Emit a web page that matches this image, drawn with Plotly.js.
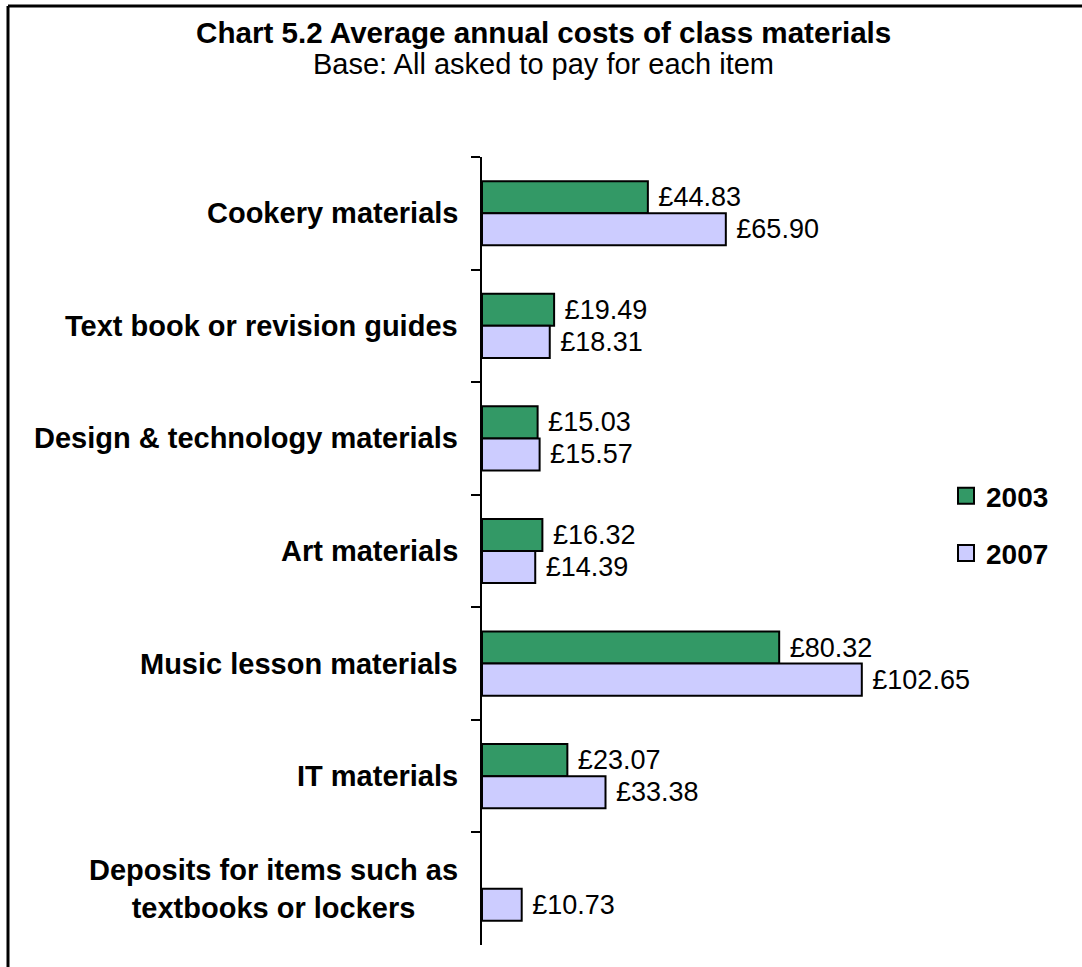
<!DOCTYPE html>
<html>
<head>
<meta charset="utf-8">
<script src="https://cdn.plot.ly/plotly-3.0.1.min.js"></script>
<style>
  html, body { margin: 0; padding: 0; background: #fff; }
  #chart { width: 1082px; height: 967px; }
</style>
</head>
<body>
<div id="chart"></div>
<script>
// ---- Data ----
const categories = [
  "Cookery materials",
  "Text book or revision guides",
  "Design & technology materials",
  "Art materials",
  "Music lesson materials",
  "IT materials",
  "Deposits for items such as textbooks or lockers"
];
const categoryLabels = [
  "Cookery materials",
  "Text book or revision guides",
  "Design & technology materials",
  "Art materials",
  "Music lesson materials",
  "IT materials",
  "Deposits for items such as<br>textbooks or lockers"
];
const values2003 = [44.83, 19.49, 15.03, 16.32, 80.32, 23.07, null];
const values2007 = [65.90, 18.31, 15.57, 14.39, 102.65, 33.38, 10.73];
const seriesNames = ["2003", "2007"];
const title = "Chart 5.2 Average annual costs of class materials";
const subtitle = "Base: All asked to pay for each item";

const FONT = "Arial, 'Liberation Sans', sans-serif";

function barTrace(name, vals, color) {
  return {
    type: "bar",
    orientation: "h",
    name: name,
    legendgroup: name,
    y: categories,
    x: vals,
    marker: { color: color, line: { color: "#000000", width: 2 } },
    texttemplate: " £%{x:.2f}",
    textposition: "outside",
    constraintext: "none",
    cliponaxis: false,
    textfont: { family: FONT, size: 27, color: "#000000" },
    hoverinfo: "x+y"
  };
}

const data = [
  barTrace(seriesNames[0], values2003, "#339966"),
  barTrace(seriesNames[1], values2007, "#CCCCFF")
];

const annotations = categories.map((c, i) => ({
  xref: "paper", yref: "y",
  x: 0, y: c,
  xanchor: "right", yanchor: "middle",
  xshift: -22,
  align: "center",
  showarrow: false,
  text: "<b>" + categoryLabels[i] + "</b>",
  font: { family: FONT, size: 29, color: "#000000" }
}));
annotations.push({
  xref: "paper", yref: "paper",
  x: (543 - 482) / 555, y: 1 + (157 - 64) / 788,
  xanchor: "center", yanchor: "middle",
  showarrow: false,
  text: subtitle,
  font: { family: FONT, size: 29, color: "#000000" }
});

const layout = {
  width: 1082,
  height: 967,
  margin: { l: 482, r: 45, t: 157, b: 22 },
  paper_bgcolor: "#ffffff",
  plot_bgcolor: "#ffffff",
  font: { family: FONT, color: "#000000" },
  title: {
    text: "<b>" + title + "</b>",
    font: { family: FONT, size: 29.6, color: "#000000" },
    x: 0.5025, xanchor: "center",
    y: 1 - 33 / 967, yanchor: "middle",
    xref: "container", yref: "container"
  },
  barmode: "group",
  bargap: 0.43,
  bargroupgap: 0,
  xaxis: {
    range: [0, 150],
    showgrid: false, zeroline: false, showline: false,
    showticklabels: false, ticks: ""
  },
  yaxis: {
    type: "category",
    autorange: "reversed",
    showgrid: false, zeroline: false,
    showline: true, linecolor: "#000000", linewidth: 2,
    ticks: "outside", tickson: "boundaries", ticklen: 9, tickwidth: 2, tickcolor: "#000000",
    showticklabels: false
  },
  showlegend: true,
  legend: {
    x: (946 - 482) / 555, xanchor: "left",
    y: 1 - (471 - 157) / 788, yanchor: "top",
    traceorder: "grouped",
    tracegroupgap: 18,
    font: { family: FONT, size: 28, color: "#000000", weight: "bold" },
    bgcolor: "rgba(0,0,0,0)"
  },
  annotations: annotations,
  shapes: [
    { type: "line", xref: "paper", yref: "paper",
      x0: (8 - 482) / 555, x1: 1.2, y0: 1 + (157 - 6) / 788, y1: 1 + (157 - 6) / 788,
      line: { color: "#000000", width: 3 } },
    { type: "line", xref: "paper", yref: "paper",
      x0: (8 - 482) / 555, x1: (8 - 482) / 555, y0: 1 + (157 - 6) / 788, y1: -0.1,
      line: { color: "#000000", width: 3 } }
  ]
};

Plotly.newPlot("chart", data, layout, { displayModeBar: false, staticPlot: true }).then(function (gd) {
  // Enlarge legend swatches to match the reference's bigger outlined squares
  gd.querySelectorAll(".legend .legendpoints path").forEach(function (p) {
    p.setAttribute("d", "M8,8H-8V-8H8Z");
    p.style.strokeWidth = "2px";
    p.style.stroke = "#000000";
  });
});
</script>
</body>
</html>
